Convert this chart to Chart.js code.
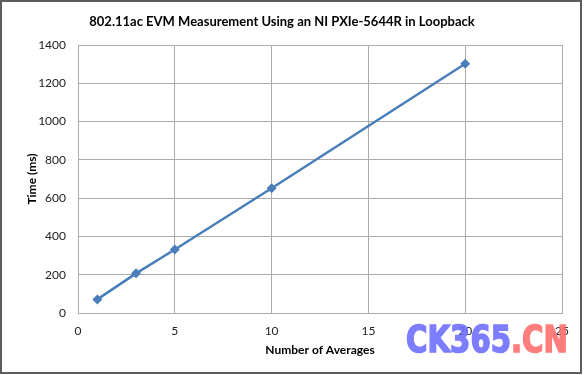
<!DOCTYPE html>
<html>
<head>
<meta charset="utf-8">
<script src="https://cdn.jsdelivr.net/npm/chart.js@4"></script>
<style>
  html, body { margin:0; padding:0; background:#fff; }
  #frame { position:absolute; left:0; top:0; width:578px; height:370px; border:2px solid #5c5c5c; background:#fff; }
  #c { display:block; }
  #wm { position:absolute; left:406px; top:318px; font-family:"DejaVu Sans Condensed","DejaVu Sans",sans-serif; font-weight:bold; font-size:37px; line-height:44px; white-space:nowrap; transform-origin:0 0; opacity:0.9; }
  #wm .a { color:#6f6fff; -webkit-text-stroke:1.5px #6f6fff; }
  #wm .b { color:#ff6f6f; -webkit-text-stroke:1.5px #ff6f6f; }
</style>
</head>
<body>
<div id="frame"><canvas id="c" width="578" height="370"></canvas></div>
<div id="wm"><span class="a">CK365</span><span class="b">.CN</span></div>
<script>
const averages = [1, 3, 5, 10, 20];
const timeMs = [71, 207, 332, 652, 1302];
const xTicks = [0, 5, 10, 15, 20, 25];
const yTicks = [0, 200, 400, 600, 800, 1000, 1200, 1400];
const titleText = '802.11ac EVM Measurement Using an NI PXIe-5644R in Loopback';
const xTitle = 'Number of Averages';
const yTitle = 'Time (ms)';

const lineColor = '#4a7ebb';
const gridColor = '#ababab';
const FONT = 'Lato, "Open Sans", sans-serif';

const borderPlugin = {
  id: 'plotBorder',
  afterDraw(chart) {
    const {ctx, chartArea:a} = chart;
    ctx.save();
    ctx.strokeStyle = gridColor;
    ctx.lineWidth = 1;
    ctx.strokeRect(Math.round(a.left)+0.5, Math.round(a.top)+0.5, Math.round(a.right-a.left), Math.round(a.bottom-a.top));
    ctx.restore();
  }
};

new Chart(document.getElementById('c'), {
  type: 'line',
  data: {
    datasets: [{
      data: averages.map((x, i) => ({x, y: timeMs[i]})),
      borderColor: lineColor,
      backgroundColor: lineColor,
      borderWidth: 2.5,
      pointStyle: 'rectRot',
      pointRadius: 5,
      pointHoverRadius: 5,
      pointBorderWidth: 0,
      tension: 0,
      fill: false
    }]
  },
  options: {
    responsive: false,
    animation: false,
    layout: { padding: { left: 0, right: 18, top: 0, bottom: 0 } },
    plugins: {
      legend: { display: false },
      tooltip: { enabled: false },
      title: {
        display: true,
        text: titleText,
        color: '#000',
        font: { family: FONT, size: 13, weight: 'bold' },
        padding: { top: 12.5, bottom: 14.9 }
      }
    },
    scales: {
      x: {
        type: 'linear',
        min: 0, max: 25,
        afterBuildTicks(s) { s.ticks = xTicks.map(v => ({value: v})); },
        afterFit(s) { s.height = 59; },
        grid: { color: gridColor, lineWidth: 1, drawTicks: false },
        border: { display: false },
        ticks: { color: '#222', font: { family: FONT, size: 12 }, padding: 11, callback: v => String(v) },
        title: { display: true, text: xTitle, color: '#000', font: { family: FONT, size: 12, weight: 'bold' }, padding: { top: 0, bottom: 15 } }
      },
      y: {
        type: 'linear',
        min: 0, max: 1400,
        afterBuildTicks(s) { s.ticks = yTicks.map(v => ({value: v})); },
        afterFit(s) { s.width = 76; },
        grid: { color: gridColor, lineWidth: 1, drawTicks: false },
        border: { display: false },
        ticks: { color: '#222', font: { family: FONT, size: 12 }, padding: 12, callback: v => String(v) },
        title: { display: true, text: yTitle, color: '#000', font: { family: FONT, size: 12, weight: 'bold' }, padding: { top: 23, bottom: 0 } }
      }
    }
  },
  plugins: [borderPlugin]
});

// fit watermark width
const wm = document.getElementById('wm');
const w = wm.getBoundingClientRect().width;
wm.style.transform = 'scaleX(' + (162 / w) + ')';
</script>
</body>
</html>
